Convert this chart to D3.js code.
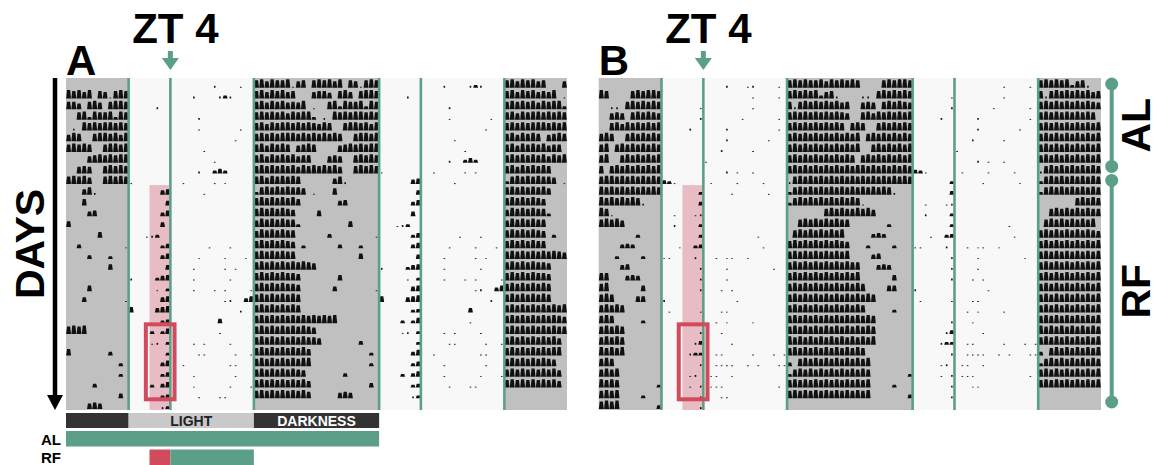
<!DOCTYPE html>
<html>
<head>
<meta charset="utf-8">
<script src="https://cdn.jsdelivr.net/npm/d3@7"></script>
<style>
  body { margin: 0; background: #fff; }
  svg { display: block; font-family: "Liberation Sans", Arial, sans-serif; }
</style>
</head>
<body>
<svg id="chart" width="1158" height="465"></svg>
<script>
// activity per day, 30 min bins from ZT0 to ZT24, level 0-9 (light half | dark half)
const daysA = [
  "000000000000000020000100|897988917808989790871898",
  "000000000000200002320000|897989780007886089708998",
  "000002000000000000000000|897989787901008939889398",
  "000000000000020000000000|898989798993020989899898",
  "000000000000010000000100|897989989898798008998979",
  "000000000000000000001000|898989998989898980089989",
  "000000000000001000000000|897989807898000078989899",
  "000000000000000010000000|897989897880007870089898",
  "000000000000020035300000|898989897989898970089898",
  "100000000010000010100000|897989898000000682000000",
  "000000560000001000000000|389898988701000700000000",
  "000000050000000000000000|898989897000000056000000",
  "000000460000000000000000|898989870000600000000000",
  "000000500000000000000000|798989883000000000600000",
  "000123000000000000000000|798989880000004000000001",
  "000000350000000100010000|898989870300000040003000",
  "000000460000010000100010|898989880000000000006000",
  "000000050000100000101000|898989898987000000000000",
  "200003560000100000010000|898989887000000060000000",
  "000001030000100010100001|898989887000000500000001",
  "000000560000000000120046|898989898000000000000000",
  "600005670000000000000200|898989898000000000000000",
  "000000340000000005000000|898989898989898900000000",
  "000030360000000001000000|898989898987000000000000",
  "000012030000101000010000|898989898988700000004000",
  "000000030000011000001001|898989898970000000000030",
  "000000460010000000011000|898989898990000000000030",
  "000000350000100000001000|898989898700000004000000",
  "000030460000100000010001|898989898970000000000050",
  "000000340000010001100000|898989898970000067600000",
  "000000230000000000000000|000000000000000000000000"
];
const daysB = [
  "000000000000200012000010|898988979898980000898998",
  "000000000000000001000010|898989378200002208989898",
  "000000010000000001000000|828989898978007870898987",
  "000000020000000100000010|898989898987008979898989",
  "000002000000200000000010|898989898980898008989898",
  "000000000000200000001000|898989898989890898989898",
  "000000000002000001000000|898989898989890089898989",
  "000000001000000000000000|898989898989808989898989",
  "000000000000201001000000|898989898989899898989898",
  "431000000100001000010000|289898989898989898989898",
  "000000030000010000001000|389898989898989898982000",
  "000000040000000000000000|389898989898981000000000",
  "001000120000000000000000|000000089898898970000000",
  "002000030000000000000000|008989898988000000030000",
  "000000030000000000100000|089898989890000045400000",
  "000100340000000000010000|898989898987000300003000",
  "110000200010110010000000|898989898989000056000000",
  "000000020000100000000100|898989898989880005650000",
  "000000020000100000000000|898989898989890000006000",
  "000000020001010000000000|898989898989898000066000",
  "200000000000001000000000|898989898989898980000000",
  "010000010001100000000000|898989898989898000003000",
  "000000000010100001000000|898989898989898980000000",
  "000000020001000000000000|898989898989898980000000",
  "000000240000010000000000|989898989898989890000000",
  "000002330011000001000101|898989898989898000000000",
  "000000020011110010100011|408989898989898900000000",
  "000001200110010000000000|389898989898989800000003",
  "000001020111000000000010|898989898989898900003000",
  "000000020001100000000000|898989898989898900000004",
  "000000020000000000000000|000000000000000000000000"
];

const hourSpan = [-6, 42];
const rowCount = 31;
const phases = [[-6, 0, "dark"], [0, 12, "light"], [12, 24, "dark"], [24, 36, "light"], [36, 42, "dark"]];
const zeitLines = [0, 4, 12, 24, 28, 36];
const feedingZT = 4;
const anticipation = [2, 4];
const rfStartRow = 10;
const boxZT = [1.65, 4.4];
const boxDays = [23, 29];
const groups = [["AL", 0, 9], ["RF", 9, 31]];
const ldBar = [["", -6, 0, "dark"], ["LIGHT", 0, 12, "light"], ["DARKNESS", 12, 24, "dark"]];
const scheduleAL = [[-6, 24, "food"]];
const scheduleRF = [[2, 4, "wait"], [4, 12, "food"]];

const C = {
  dark: "#c0c0c0", light: "#f8f8f8", green: "#5b9f88", pink: "#e8bcc4",
  red: "#d24b5d", ink: "#111", barDark: "#333", barLight: "#c9c9c9"
};

const svg = d3.select("#chart");
const y = d3.scaleLinear().domain([0, rowCount]).range([78, 410]);
const rowH = y(1) - y(0);
const maxH = rowH - 2.3;

const parse = s => s.replace("|", "").split("").map(Number);

function drawPanel(p) {
  const act = p.days.map(parse);
  const x = d3.scaleLinear().domain(hourSpan).range([p.left, p.right]);
  const g = svg.append("g");

  g.selectAll("rect.phase").data(phases).join("rect")
    .attr("x", d => x(d[0])).attr("width", d => x(d[1]) - x(d[0]))
    .attr("y", y(0)).attr("height", y(rowCount) - y(0))
    .attr("fill", d => C[d[2]]);

  g.append("rect")
    .attr("x", x(anticipation[0])).attr("width", x(anticipation[1]) - x(anticipation[0]))
    .attr("y", y(rfStartRow)).attr("height", y(rowCount) - y(rfStartRow))
    .attr("fill", C.pink);

  // double plot: row r runs from ZT-6 of day r to ZT42 (into day r+1)
  const marks = [];
  for (let r = 0; r < rowCount; r++) {
    for (let h = hourSpan[0] * 2; h < hourSpan[1] * 2; h++) {
      const t = h / 2;
      const day = r + Math.floor(t / 24);
      const bin = ((h % 48) + 48) % 48;
      const v = day >= 0 && day < act.length ? act[day][bin] : 0;
      if (v > 0) marks.push({ r, t, v });
    }
  }
  const binW = x(0.5) - x(0);
  const hOf = v => v / 9 * maxH;
  // each bin a small spike: wide base, narrower top
  const spike = d => {
    const base = y(d.r + 1) - 1, top = base - hOf(d.v);
    if (d.v <= 2) {
      const cx = x(d.t) + binW / 2;
      return `M${cx - 0.8},${base}V${top}H${cx + 0.8}V${base}Z`;
    }
    const x0 = x(d.t) + 0.15, x1 = x(d.t) + binW - 0.15;
    return `M${x0},${base}L${x0 + 0.9},${top}H${x1 - 0.9}L${x1},${base}Z`;
  };
  g.selectAll("path.act").data(marks).join("path")
    .attr("d", spike)
    .attr("fill", C.ink);

  g.selectAll("line.zt").data(zeitLines).join("line")
    .attr("x1", d => x(d)).attr("x2", d => x(d))
    .attr("y1", y(0)).attr("y2", y(rowCount))
    .attr("stroke", C.green).attr("stroke-width", 2.6);

  g.append("rect")
    .attr("x", x(boxZT[0])).attr("width", x(boxZT[1]) - x(boxZT[0]))
    .attr("y", y(boxDays[0])).attr("height", y(boxDays[1] + 1) - y(boxDays[0]))
    .attr("fill", "none").attr("stroke", C.red).attr("stroke-width", 4);

  const fx = x(feedingZT);
  g.append("rect").attr("x", fx - 2.5).attr("y", 51).attr("width", 5).attr("height", 8).attr("fill", C.green);
  g.append("path").attr("d", `M${fx - 8.5},58L${fx + 8.5},58L${fx},70Z`).attr("fill", C.green);
  g.append("text").attr("x", fx + 5).attr("y", 43).attr("text-anchor", "middle")
    .attr("font-size", 42).attr("font-weight", "bold").text("ZT 4");
  g.append("text").attr("x", p.left).attr("y", 75)
    .attr("font-size", 42).attr("font-weight", "bold").text(p.id);

  if (p.legend) {
    const lg = svg.append("g");
    lg.selectAll("rect.ld").data(ldBar).join("rect")
      .attr("x", d => x(d[1])).attr("width", d => x(d[2]) - x(d[1]))
      .attr("y", 413).attr("height", 15)
      .attr("fill", d => d[3] === "dark" ? C.barDark : C.barLight);
    lg.selectAll("text.ld").data(ldBar).join("text")
      .attr("x", d => (x(d[1]) + x(d[2])) / 2).attr("y", 425.5)
      .attr("text-anchor", "middle").attr("font-size", 14).attr("font-weight", "bold")
      .attr("fill", d => d[3] === "dark" ? "#fff" : "#222").text(d => d[0]);
    [[scheduleAL, 431, "AL"], [scheduleRF, 449.5, "RF"]].forEach(([sched, top, name]) => {
      lg.selectAll(null).data(sched).join("rect")
        .attr("x", d => x(d[0])).attr("width", d => x(d[1]) - x(d[0]))
        .attr("y", top).attr("height", 15.5)
        .attr("fill", d => d[2] === "food" ? C.green : C.red);
      lg.append("text").attr("x", 61).attr("y", top + 13.5).attr("text-anchor", "end")
        .attr("font-size", 15).attr("font-weight", "bold").text(name);
    });

    svg.append("text").attr("transform", `translate(44,${(y(0) + y(rowCount)) / 2}) rotate(-90)`)
      .attr("text-anchor", "middle").attr("font-size", 41).attr("font-weight", "bold").text("DAYS");
    svg.append("line").attr("x1", 55).attr("x2", 55).attr("y1", y(0)).attr("y2", 397)
      .attr("stroke", "#000").attr("stroke-width", 4.5);
    svg.append("path").attr("d", "M47,395L63,395L55,410Z").attr("fill", "#000");
  }

  if (p.bracket) {
    const bx = p.right + 10.7;
    const bg = svg.append("g");
    groups.forEach(([name, a, b]) => {
      const y1 = y(a) + 6, y2 = y(b) - 8;
      bg.append("line").attr("x1", bx).attr("x2", bx).attr("y1", y1).attr("y2", y2)
        .attr("stroke", C.green).attr("stroke-width", 4);
      bg.selectAll(null).data([y1, y2]).join("circle")
        .attr("cx", bx).attr("cy", d => d).attr("r", 6.5).attr("fill", C.green);
      bg.append("text").attr("transform", `translate(${bx + 38},${(y1 + y2) / 2}) rotate(-90)`)
        .attr("text-anchor", "middle").attr("font-size", 41).attr("font-weight", "bold").text(name);
    });
  }
}

drawPanel({ id: "A", days: daysA, left: 66, right: 567, legend: true, bracket: false });
drawPanel({ id: "B", days: daysB, left: 598.7, right: 1101, legend: false, bracket: true });
</script>
</body>
</html>
